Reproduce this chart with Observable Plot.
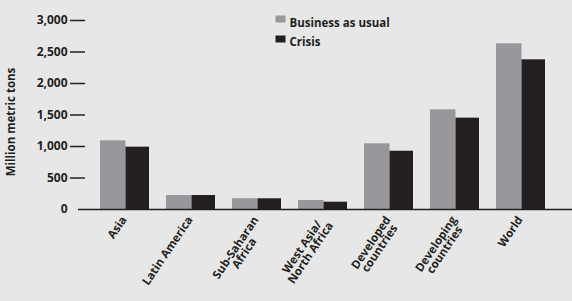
<!DOCTYPE html>
<html>
<head>
<meta charset="utf-8">
<script src="https://cdn.jsdelivr.net/npm/d3@7"></script>
<script src="https://cdn.jsdelivr.net/npm/@observablehq/plot@0.6"></script>
<style>
  html, body { margin: 0; padding: 0; background: #e7e7e7; }
  #chart { position: relative; width: 572px; height: 301px; overflow: hidden; }
</style>
</head>
<body>
<div id="chart"></div>
<script>
const categories = ["Asia", "Latin America", "Sub-Saharan Africa", "West Asia/North Africa", "Developed countries", "Developing countries", "World"];
const categoryLabels = ["Asia", "Latin America", "Sub-Saharan\nAfrica", "West Asia/\nNorth Africa", "Developed\ncountries", "Developing\ncountries", "World"];
const series = ["Business as usual", "Crisis"];
const businessAsUsual = [1090, 222, 170, 143, 1043, 1582, 2630];
const crisis = [990, 222, 170, 116, 925, 1450, 2376];
const yTicks = [0, 500, 1000, 1500, 2000, 2500, 3000];
const yTitle = "Million metric tons";

const colors = ["#98989c", "#231f20"];
const ink = "#231f20";

const data = [];
categories.forEach((c, i) => {
  data.push({category: c, series: series[0], value: businessAsUsual[i]});
  data.push({category: c, series: series[1], value: crisis[i]});
});
const labelOf = new Map(categories.map((c, i) => [c, categoryLabels[i]]));

const rectSymbol = {draw(ctx, size) { ctx.rect(-5, -3.5, 10, 7); }};

const plot = Plot.plot({
  width: 572,
  height: 301,
  marginTop: 20,
  marginBottom: 92,
  marginLeft: 78,
  marginRight: 0,
  style: {background: "#e7e7e7", fontFamily: "'Open Sans', sans-serif", fontWeight: 700, fontSize: "11.5px", color: ink},
  x: {domain: categories, paddingInner: 0.264, paddingOuter: 0.34, align: 0.45, axis: null},
  y: {domain: [0, 3000], axis: null},
  color: {domain: series, range: colors},
  marks: [
    Plot.barY(data.filter(d => d.series === series[0]), {x: "category", y: "value", fill: "series", insetRight: 23.5, insetLeft: 0}),
    Plot.barY(data.filter(d => d.series === series[1]), {x: "category", y: "value", fill: "series", insetLeft: 25.5, insetRight: 0}),
    Plot.ruleY([0], {stroke: ink, strokeWidth: 1.5}),
    Plot.axisY({ticks: yTicks.filter(t => t > 0), tickSize: 15, dx: 7, text: null, stroke: ink, strokeWidth: 1.5, label: null}),
    Plot.axisY({ticks: yTicks, tickSize: 0, tickPadding: 11, tickFormat: d3.format(","), fill: ink, fontSize: 12, label: null, line: true, stroke: ink, strokeWidth: 1.5}),
    Plot.text([yTitle], {frameAnchor: "left", textAnchor: "middle", dx: -67, dy: 7, rotate: -90, fill: ink}),
    Plot.text(categories, {x: d => d, frameAnchor: "bottom", text: d => labelOf.get(d), rotate: -56, textAnchor: "end", lineAnchor: "top", lineHeight: 0.9, dx: -4, dy: 6, fill: ink}),
    ...series.map((s, i) => Plot.dot([s], {frameAnchor: "top-left", dx: 202, dy: -1.5 + i * 20, symbol: rectSymbol, fill: d => d, r: 4})),
    ...series.map((s, i) => Plot.text([s], {frameAnchor: "top-left", dx: 211, dy: -1.5 + i * 19, textAnchor: "start", fill: ink}))
  ]
});

document.getElementById("chart").appendChild(plot);

// center multi-line category labels relative to their longest line
plot.querySelectorAll("text").forEach(t => {
  const spans = t.querySelectorAll("tspan");
  if (spans.length > 1) {
    const lens = Array.from(spans, s => s.getComputedTextLength());
    const max = Math.max(...lens);
    spans.forEach((s, i) => s.setAttribute("x", -(max - lens[i]) / 2));
  }
});
</script>
</body>
</html>
